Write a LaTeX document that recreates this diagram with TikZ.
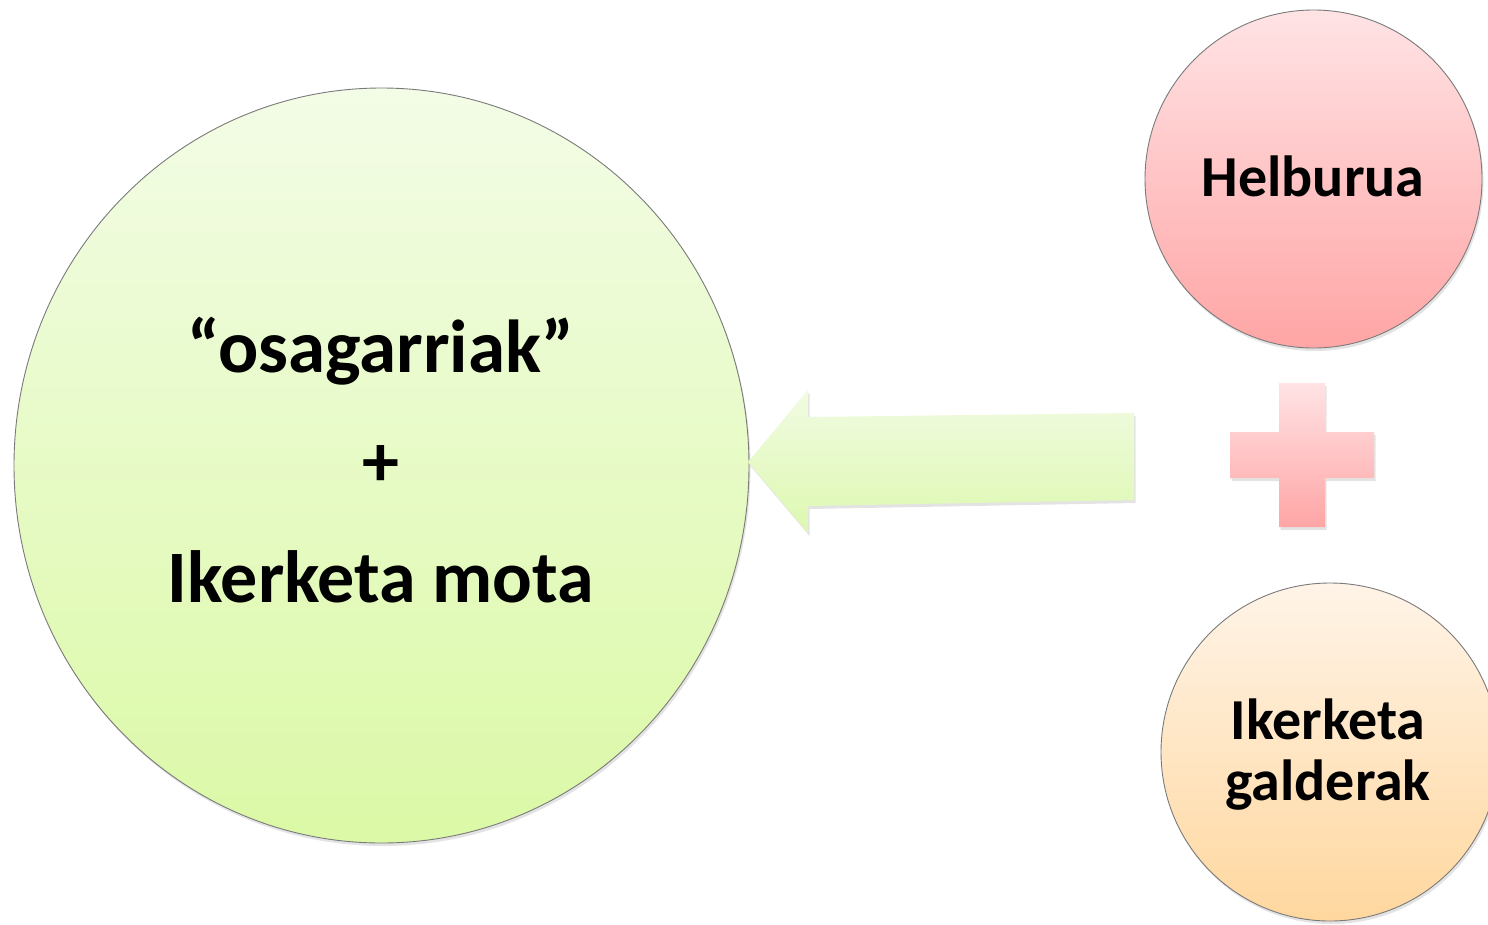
\documentclass[tikz,border=0pt]{standalone}
\usepackage{fontspec}
\setmainfont{Carlito}
\usetikzlibrary{shadows,shapes.geometric}
\definecolor{gTop}{HTML}{F3FCE6}
\definecolor{gBot}{HTML}{DBF9A6}
\definecolor{pTop}{HTML}{FFE3E5}
\definecolor{pBot}{HTML}{FFA5A5}
\definecolor{oTop}{HTML}{FFF4E8}
\definecolor{oBot}{HTML}{FFD79E}
\definecolor{aTop}{HTML}{F1FBE2}
\definecolor{aBot}{HTML}{DDF8B0}
\definecolor{rim}{HTML}{7A7A7A}
\tikzset{
  softshadow/.style={drop shadow={opacity=0.22, shadow xshift=1.5pt, shadow yshift=-3pt}},
  bubble/.style={ellipse, draw=rim, line width=0.9pt, inner sep=0pt, align=center, softshadow},
}
\begin{document}
\begin{tikzpicture}[x=1pt,y=-1pt]
\useasboundingbox (0,0) rectangle (1488,924);
% big green circle
\node[bubble, minimum width=735pt, minimum height=755pt, top color=gTop, bottom color=gBot] (main) at (381.5,465.5) {};
\node[font=\fontsize{75}{90}\selectfont\bfseries, anchor=base] (t1) at (381,372) {“osagarriak”};
\node[font=\fontsize{74}{88}\selectfont\bfseries] (t2) at (381,466) {+};
\node[font=\fontsize{74}{88}\selectfont\bfseries, anchor=base] (t3) at (381,602) {Ikerketa mota};
% pink circle
\node[bubble, minimum width=337pt, minimum height=338pt, top color=pTop, bottom color=pBot] (helb) at (1313.5,179) {};
\node[font=\fontsize{58}{70}\selectfont\bfseries, anchor=base] (ht) at (1313,196) {Helburua};
% orange circle
\node[bubble, minimum width=338pt, minimum height=338pt, top color=oTop, bottom color=oBot] (galde) at (1330,752) {};
\node[font=\fontsize{58}{70}\selectfont\bfseries, anchor=base] (gt1) at (1328,739) {Ikerketa};
\node[font=\fontsize{58}{70}\selectfont\bfseries, anchor=base] (gt2) at (1328,800) {galderak};
% arrow
\coordinate (tip) at (748,462);
\path[softshadow, top color=aTop, bottom color=aBot]
  (tip) -- (808,390) -- (808,417) -- (1134,413) -- (1134,500) -- (808,506) -- (808,533) -- cycle;
% plus sign
\path[softshadow, top color=pTop, bottom color=pBot]
  (1279,383) -- (1325,383) -- (1325,432) -- (1374,432) -- (1374,478) -- (1325,478)
  -- (1325,527) -- (1279,527) -- (1279,478) -- (1230,478) -- (1230,432) -- (1279,432) -- cycle;
\end{tikzpicture}
\end{document}
